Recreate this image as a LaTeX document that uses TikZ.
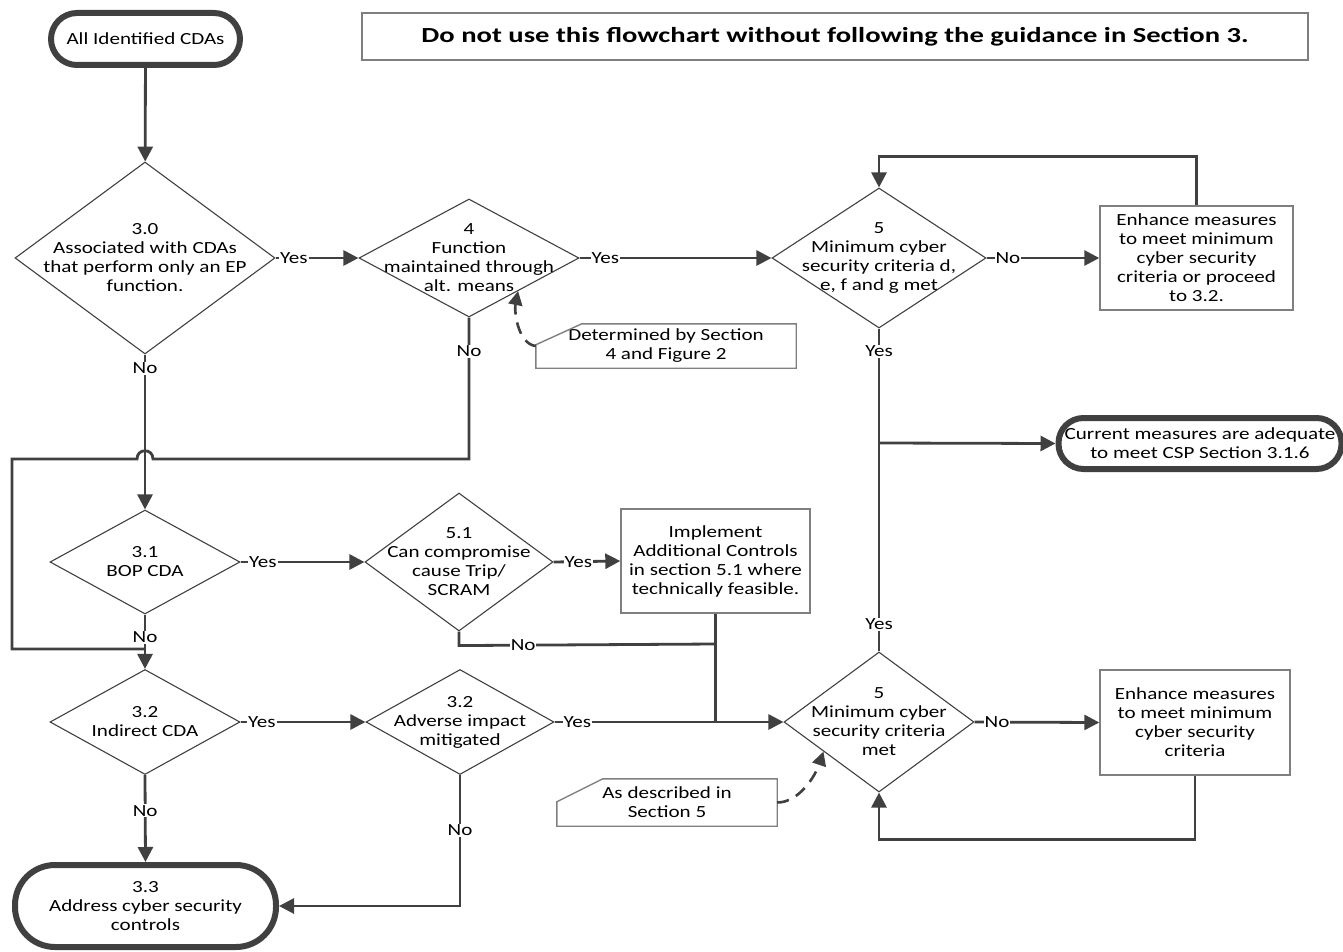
\documentclass[tikz,border=0pt]{standalone}
\usepackage{fontspec}
\setmainfont{Carlito}[FakeStretch=1.24]
\newfontfamily\titlefont{Carlito}[FakeStretch=1.33]
\usetikzlibrary{shapes.geometric, arrows.meta, calc}
\definecolor{linegray}{HTML}{404040}
\definecolor{boxgray}{HTML}{7F7F7F}
\newcommand{\bodyfont}{\fontsize{17}{19}\selectfont}
\tikzset{
  cs line/.style={line width=2.8pt, draw=linegray},
  cs arrow/.style={cs line, -{Triangle[length=15pt, width=15pt]}},
  cs dashed/.style={line width=2.6pt, draw=linegray, dash pattern=on 12pt off 8pt,
    -{Triangle[length=14pt, width=14pt]}},
  cs decision/.style 2 args={
    diamond, draw=linegray, line width=1.1pt,
    minimum width=#1, minimum height=#2, inner sep=0pt
  },
  cs text/.style={align=center, font=\bodyfont, inner sep=0pt},
  cs box/.style 2 args={
    rectangle, draw=boxgray, line width=1.4pt,
    minimum width=#1, minimum height=#2, inner sep=0pt,
    align=center, font=\bodyfont
  },
  cs note/.style 2 args={
    rectangle, minimum width=#1, minimum height=#2, inner sep=0pt,
    align=center, font=\bodyfont
  },
  cs note line/.style={draw=boxgray, line width=1.4pt},
  cs terminal/.style n args={3}{
    rectangle, draw=linegray, line width=6pt, rounded corners=#3,
    minimum width=#1, minimum height=#2, inner sep=0pt,
    align=center, font=\bodyfont
  },
  cs label/.style={fill=white, inner sep=1pt, font=\bodyfont}
}

\begin{document}
\begin{tikzpicture}[x=1pt, y=-1pt]
  \useasboundingbox (0,0) rectangle (1343,952);

  % terminals and title
  \node (start) [cs terminal={189}{52}{26pt}] at (145.5,39) {All Identified CDAs};
  \node (title) [cs box={946}{47}, font=\titlefont\bfseries\fontsize{21.5}{24}\selectfont]
    at (835,36.5) {Do not use this flowchart without following the guidance in Section 3.};
  \node (cur) [cs terminal={283}{51}{25pt}] at (1200,443.5)
    {Current measures are adequate\\to meet CSP Section 3.1.6};
  \node (term33) [cs terminal={261}{82}{40pt}] at (145.5,906)
    {3.3\\Address cyber security\\controls};

  % decisions
  \node (d30) [cs decision={260}{192},
    label={[cs text]center:{3.0\\Associated with CDAs\\that perform only an EP\\function.}}]
    at (145,258) {};
  \node (d4) [cs decision={220}{118},
    label={[cs text]center:{4\\Function\\maintained through\\alt. means}}]
    at (469,258) {};
  \node (d5a) [cs decision={214}{140},
    label={[cs text]center:{5\\Minimum cyber\\security criteria d,\\e, f and g met}}]
    at (879,258) {};
  \node (d31) [cs decision={190}{104},
    label={[cs text]center:{3.1\\BOP CDA}}]
    at (145,562) {};
  \node (d51) [cs decision={188}{138},
    label={[cs text]center:{5.1\\Can compromise\\cause Trip/\\SCRAM}}]
    at (459,562) {};
  \node (d32) [cs decision={190}{105},
    label={[cs text]center:{3.2\\Indirect CDA}}]
    at (145,722) {};
  \node (dadv) [cs decision={188}{105},
    label={[cs text]center:{3.2\\Adverse impact\\mitigated}}]
    at (460,722) {};
  \node (d5b) [cs decision={190}{140},
    label={[cs text]center:{5\\Minimum cyber\\security criteria\\met}}]
    at (879,722) {};

  % process boxes
  \node (box5a) [cs box={193}{104}] at (1196.5,258)
    {Enhance measures\\to meet minimum\\cyber security\\criteria or proceed\\to 3.2.};
  \node (impl) [cs box={189}{104}] at (715.5,561)
    {Implement\\Additional Controls\\in section 5.1 where\\technically feasible.};
  \node (box5b) [cs box={190}{105}] at (1195,722.5)
    {Enhance measures\\to meet minimum\\cyber security\\criteria};

  % notes
  \node (n4) [cs note={260}{44}] at (666,346) {Determined by Section\\4 and Figure 2};
  \node (n5) [cs note={220}{47}] at (667,802.5) {As described in\\Section 5};
  \draw [cs note line] (n4.south west) -- (n4.south east) -- (n4.north east)
    -- ($(n4.north west)+(46,0)$) -- ($(n4.north west)+(0,21)$) -- cycle;
  \draw [cs note line] (n5.south west) -- (n5.south east) -- (n5.north east)
    -- ($(n5.north west)+(46,0)$) -- ($(n5.north west)+(0,23)$) -- cycle;

  % connectors
  \coordinate (j5) at (879,443);
  \coordinate (hopR) at (153,459);
  \coordinate (hopL) at (137,459);
  \coordinate (loopA) at (12,459);
  \coordinate (loopB) at (12,649);

  \draw [cs arrow] (start) -- (d30);
  \draw [cs arrow] (d30.east) -- node[cs label, pos=0.22] {Yes} (d4.west);
  \draw [cs arrow] (d4.east) -- node[cs label, pos=0.135] {Yes} (d5a.west);
  \draw [cs arrow] (d5a.east) -- node[cs label, pos=0.19] {No} (box5a.west);
  \draw [cs arrow] (box5a.north) -- ++(0,-49) -| (d5a.north);
  \draw [cs line] (d5a.south) -- node[cs label, pos=0.2] {Yes} (j5);
  \draw [cs arrow] (j5) -- (cur.west);
  \draw [cs line] (d5b.north) -- node[cs label, pos=0.13] {Yes} (j5);
  \draw [cs arrow] (d5b.east) -- node[cs label, pos=0.18] {No} (box5b.west);
  \draw [cs arrow] (box5b.south) -- ++(0,64) -| (d5b.south);

  \draw [cs arrow] (d30.south) -- node[cs label, pos=0.09] {No} (d31.north);
  \draw [cs line] (d4.south) -- node[cs label, pos=0.24] {No} (d4.south |- hopR)
    -- (hopR) .. controls +(0,-11) and +(0,-11) .. (hopL)
    -- (loopA) -- (loopB) -- (loopB -| d32.north);
  \draw [cs arrow] (d31.east) -- node[cs label, pos=0.18] {Yes} (d51.west);
  \draw [cs arrow] (d51.east) -- node[cs label, pos=0.37] {Yes} (impl.west);
  \draw [cs line] (d51.south) -- ++(0,14)
    -- node[cs label, pos=0.25] {No} (impl.south |- 0,644);
  \draw [cs line] (impl.south) -- (impl.south |- dadv.east);
  \draw [cs arrow] (d31.south) -- node[cs label, pos=0.42] {No} (d32.north);
  \draw [cs arrow] (d32.east) -- node[cs label, pos=0.17] {Yes} (dadv.west);
  \draw [cs arrow] (dadv.east) -- node[cs label, pos=0.1] {Yes} (d5b.west);
  \draw [cs arrow] (d32.south) -- node[cs label, pos=0.41] {No} (term33.north);
  \draw [cs arrow] (dadv.south) -- node[cs label, pos=0.42] {No} (dadv.south |- term33.east)
    -- (term33.east);

  \draw [cs dashed] (n4.west) .. controls +(-18,-2) and +(-4,20) .. (d4.-34);
  \draw [cs dashed] (n5.east) .. controls +(22,0) and +(-8,24) .. (d5b.-152);
\end{tikzpicture}
\end{document}
